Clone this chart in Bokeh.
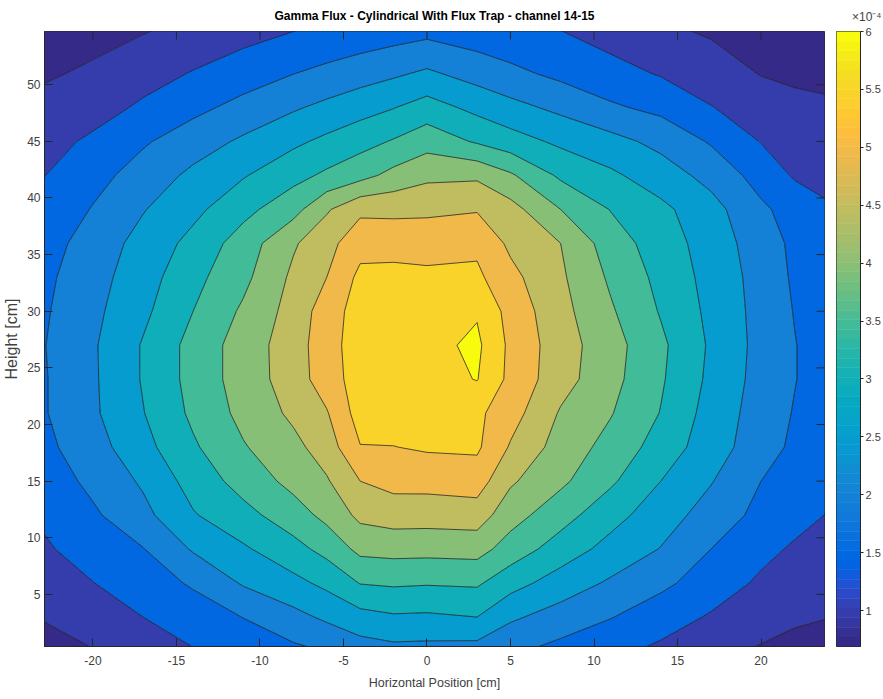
import numpy as np
from bokeh.plotting import figure
from bokeh.layouts import row
from bokeh.models import FixedTicker, Range1d, Title
from bokeh.embed import file_html
from bokeh.resources import INLINE

# Measurement grid (cm)
x_cm = [-23, -20, -17, -14, -11, -8, -6, -4, -2, 0, 3, 5, 8, 11, 14, 17, 20, 22, 24]
height_cm = [0, 3, 6, 9, 12, 15, 18, 21, 24, 27, 30, 33, 36, 39, 42, 45, 48, 51, 55]

# Gamma flux, channel 14-15, in units of 1e-4 (one row per height, bottom to top)
flux_h00 = [0.78, 0.98, 1.22, 1.47, 1.68, 1.88, 2.02, 2.24, 2.34, 2.32, 2.28, 2.08, 1.83, 1.62, 1.39, 1.15, 0.94, 0.85, 0.78]
flux_h03 = [1.03, 1.23, 1.50, 1.75, 2.01, 2.35, 2.59, 2.83, 2.94, 2.92, 3.00, 2.58, 2.29, 2.02, 1.73, 1.45, 1.22, 1.07, 1.01]
flux_h06 = [1.22, 1.49, 1.76, 2.06, 2.55, 2.86, 3.12, 3.52, 3.57, 3.54, 3.57, 3.19, 2.77, 2.43, 2.11, 1.76, 1.42, 1.28, 1.17]
flux_h09 = [1.43, 1.71, 1.98, 2.55, 2.93, 3.33, 3.66, 4.13, 4.17, 4.16, 4.19, 3.78, 3.27, 2.83, 2.48, 2.00, 1.63, 1.44, 1.32]
flux_h12 = [1.57, 1.92, 2.36, 2.96, 3.34, 3.77, 4.14, 4.62, 4.73, 4.72, 4.75, 4.20, 3.70, 3.18, 2.73, 2.29, 1.86, 1.66, 1.48]
flux_h15 = [1.72, 2.12, 2.57, 3.20, 3.69, 4.15, 4.45, 5.00, 5.16, 5.17, 5.24, 4.57, 4.10, 3.58, 3.00, 2.53, 2.00, 1.78, 1.58]
flux_h18 = [1.87, 2.29, 2.84, 3.43, 3.96, 4.36, 4.74, 5.48, 5.49, 5.56, 5.58, 4.95, 4.29, 3.83, 3.29, 2.73, 2.23, 1.90, 1.65]
flux_h21 = [1.95, 2.42, 2.98, 3.60, 4.14, 4.60, 4.96, 5.72, 5.74, 5.76, 5.60, 5.21, 4.45, 4.03, 3.48, 2.80, 2.28, 1.97, 1.72]
flux_h24 = [1.95, 2.43, 3.04, 3.67, 4.23, 4.74, 5.27, 5.72, 5.76, 5.80, 6.02, 5.37, 4.70, 4.16, 3.56, 2.89, 2.32, 2.02, 1.75]
flux_h27 = [1.97, 2.44, 3.04, 3.67, 4.23, 4.76, 5.30, 5.75, 5.80, 5.85, 6.10, 5.39, 4.73, 4.20, 3.60, 2.93, 2.34, 2.02, 1.75]
flux_h30 = [1.93, 2.38, 2.89, 3.50, 4.08, 4.69, 5.25, 5.72, 5.76, 5.82, 5.95, 5.32, 4.66, 4.06, 3.46, 2.88, 2.33, 1.98, 1.73]
flux_h33 = [1.88, 2.31, 2.78, 3.35, 3.87, 4.60, 5.00, 5.62, 5.65, 5.62, 5.60, 5.14, 4.58, 3.92, 3.36, 2.83, 2.31, 1.93, 1.70]
flux_h36 = [1.78, 2.22, 2.67, 3.15, 3.73, 4.44, 4.83, 5.32, 5.31, 5.27, 5.39, 4.90, 4.50, 3.75, 3.25, 2.78, 2.24, 1.90, 1.68]
flux_h39 = [1.62, 2.03, 2.47, 2.87, 3.35, 3.82, 4.44, 4.89, 4.88, 4.91, 4.96, 4.68, 4.00, 3.48, 3.12, 2.68, 2.09, 1.80, 1.54]
flux_h42 = [1.48, 1.83, 2.21, 2.61, 2.96, 3.34, 3.59, 3.83, 4.15, 4.38, 4.41, 4.07, 3.41, 3.09, 2.74, 2.34, 1.80, 1.45, 1.39]
flux_h45 = [1.31, 1.59, 1.94, 2.26, 2.58, 2.90, 3.11, 3.32, 3.54, 3.80, 3.44, 3.21, 2.90, 2.66, 2.36, 1.95, 1.48, 1.29, 1.23]
flux_h48 = [1.13, 1.29, 1.58, 1.87, 2.15, 2.44, 2.62, 2.80, 2.98, 3.21, 2.86, 2.65, 2.38, 2.07, 1.87, 1.52, 1.23, 1.11, 1.07]
flux_h51 = [0.94, 1.07, 1.30, 1.53, 1.76, 1.99, 2.13, 2.28, 2.42, 2.58, 2.30, 2.12, 1.88, 1.67, 1.46, 1.21, 0.98, 0.92, 0.88]
flux_h55 = [0.76, 0.84, 0.95, 1.11, 1.29, 1.46, 1.56, 1.64, 1.73, 1.81, 1.68, 1.60, 1.48, 1.27, 1.06, 0.93, 0.80, 0.74, 0.69]

# Contour levels and colour limits (units of 1e-4)
contour_levels = [1.0, 1.5, 2.0, 2.5, 3.0, 3.5, 4.0, 4.5, 5.0, 5.5, 6.0]
color_low, color_high = 0.69, 6.0
colorbar_ticks = [1, 1.5, 2, 2.5, 3, 3.5, 4, 4.5, 5, 5.5, 6]
x_ticks = [-20, -15, -10, -5, 0, 5, 10, 15, 20]
y_ticks = [5, 10, 15, 20, 25, 30, 35, 40, 45, 50]

# parula colormap, 64 entries
PARULA = [
    (0.2081, 0.1663, 0.5292), (0.2116, 0.1898, 0.5777), (0.2123, 0.2138, 0.6270), (0.2081, 0.2386, 0.6771),
    (0.1959, 0.2645, 0.7279), (0.1707, 0.2919, 0.7792), (0.1253, 0.3242, 0.8303), (0.0591, 0.3598, 0.8683),
    (0.0117, 0.3875, 0.8820), (0.0060, 0.4086, 0.8828), (0.0165, 0.4266, 0.8786), (0.0329, 0.4430, 0.8720),
    (0.0498, 0.4586, 0.8641), (0.0629, 0.4737, 0.8554), (0.0723, 0.4887, 0.8467), (0.0779, 0.5040, 0.8384),
    (0.0793, 0.5200, 0.8312), (0.0749, 0.5375, 0.8263), (0.0641, 0.5570, 0.8240), (0.0488, 0.5772, 0.8228),
    (0.0343, 0.5966, 0.8199), (0.0265, 0.6137, 0.8135), (0.0239, 0.6287, 0.8038), (0.0231, 0.6418, 0.7913),
    (0.0228, 0.6535, 0.7768), (0.0267, 0.6642, 0.7607), (0.0384, 0.6743, 0.7436), (0.0590, 0.6838, 0.7254),
    (0.0843, 0.6928, 0.7062), (0.1133, 0.7015, 0.6859), (0.1453, 0.7098, 0.6646), (0.1801, 0.7177, 0.6424),
    (0.2178, 0.7250, 0.6193), (0.2586, 0.7317, 0.5954), (0.3022, 0.7376, 0.5712), (0.3482, 0.7424, 0.5473),
    (0.3953, 0.7459, 0.5244), (0.4420, 0.7481, 0.5033), (0.4871, 0.7491, 0.4840), (0.5300, 0.7491, 0.4661),
    (0.5709, 0.7485, 0.4494), (0.6099, 0.7473, 0.4337), (0.6473, 0.7456, 0.4188), (0.6834, 0.7435, 0.4044),
    (0.7184, 0.7411, 0.3905), (0.7525, 0.7384, 0.3768), (0.7858, 0.7356, 0.3633), (0.8185, 0.7327, 0.3498),
    (0.8507, 0.7299, 0.3360), (0.8824, 0.7274, 0.3217), (0.9139, 0.7258, 0.3063), (0.9450, 0.7261, 0.2886),
    (0.9739, 0.7314, 0.2666), (0.9938, 0.7455, 0.2403), (0.9990, 0.7653, 0.2164), (0.9955, 0.7861, 0.1967),
    (0.9880, 0.8066, 0.1794), (0.9789, 0.8271, 0.1633), (0.9697, 0.8481, 0.1475), (0.9626, 0.8705, 0.1309),
    (0.9589, 0.8949, 0.1132), (0.9598, 0.9218, 0.0948), (0.9661, 0.9514, 0.0755), (0.9763, 0.9831, 0.0538),
]
parula_hex = ["#%02x%02x%02x" % tuple(int(round(c * 255)) for c in rgb) for rgb in PARULA]


def parula_for(v):
    n = len(parula_hex)
    i = int(np.floor((v - color_low) / (color_high - color_low) * n))
    return parula_hex[min(max(i, 0), n - 1)]


flux = np.array([flux_h00, flux_h03, flux_h06, flux_h09, flux_h12, flux_h15, flux_h18,
                 flux_h21, flux_h24, flux_h27, flux_h30, flux_h33, flux_h36, flux_h39,
                 flux_h42, flux_h45, flux_h48, flux_h51, flux_h55])

# filled bands: below the first level, between levels, and above the last
fill_levels = [flux.min() - 0.05] + contour_levels + [flux.max() + 0.05]
band_colors = [parula_for(color_low)] + [parula_for(v) for v in contour_levels]

FONT = "'Liberation Sans', Arial, Helvetica, sans-serif"
TXT = "#262626"
LBL = "#404040"

x_range = Range1d(-22.9, 23.8)
y_range = Range1d(0.4, 54.7)

# ---- main contour panel ----
p = figure(width=825, height=699, x_range=x_range, y_range=y_range,
           output_backend="svg", toolbar_location=None,
           min_border_left=41, min_border_right=1, min_border_top=30, min_border_bottom=53)
p.grid.visible = False
p.background_fill_color = "white"
p.outline_line_color = TXT
p.outline_line_width = 1

p.add_layout(Title(text="Gamma Flux - Cylindrical With Flux Trap - channel 14-15",
                   align="center", vertical_align="top", offset=0, standoff=14,
                   text_font=FONT, text_font_size="12px", text_font_style="bold",
                   text_color="#000000"), "above")

p.contour(x=x_cm, y=height_cm, z=flux, levels=fill_levels,
          fill_color=band_colors, line_color="#101010", line_width=0.8, line_alpha=0.9)

for ax, ticks in ((p.xaxis[0], x_ticks), (p.yaxis[0], y_ticks)):
    ax.ticker = FixedTicker(ticks=ticks)
    ax.major_label_overrides = {t: str(t) for t in ticks}
    ax.minor_tick_line_color = None
    ax.major_tick_in = 8
    ax.major_tick_out = 0
    ax.axis_line_color = TXT
    ax.major_tick_line_color = TXT
    ax.major_label_text_font = FONT
    ax.major_label_text_font_size = "12px"
    ax.major_label_text_color = LBL
    ax.axis_label_text_font = FONT
    ax.axis_label_text_font_style = "normal"
    ax.axis_label_text_color = LBL

p.xaxis.axis_label = "Horizontal Position [cm]"
p.yaxis.axis_label = "Height [cm]"
p.xaxis.axis_label_text_font_size = "12.5px"
p.yaxis.axis_label_text_font_size = "16px"
p.xaxis.major_label_standoff = 9
p.xaxis.axis_label_standoff = 8
p.yaxis.major_label_standoff = 4
p.yaxis.axis_label_standoff = 4

# inward tick marks on the top and right edges of the box (half of each dash is clipped)
p.scatter(x=x_ticks, y=[y_range.end] * len(x_ticks), marker="dash", angle=np.pi / 2,
          size=16, line_color=TXT, line_width=1)
p.scatter(x=[x_range.end] * len(y_ticks), y=y_ticks, marker="dash",
          size=16, line_color=TXT, line_width=1)

# ---- colour scale panel ----
cb = figure(width=58, height=699, x_range=Range1d(0, 1),
            y_range=Range1d(color_low, color_high),
            output_backend="svg", toolbar_location=None,
            x_axis_type=None, y_axis_location="right",
            min_border_left=11, min_border_right=0, min_border_top=30, min_border_bottom=53)
cb.grid.visible = False
cb.outline_line_color = TXT
cb.outline_line_width = 1
cb.background_fill_color = "white"

edges = np.linspace(color_low, color_high, len(parula_hex) + 1)
cb.quad(left=0, right=1, bottom=edges[:-1], top=edges[1:],
        fill_color=parula_hex, line_color=parula_hex, line_width=0.5)

cax = cb.yaxis[0]
cax.ticker = FixedTicker(ticks=colorbar_ticks)
cax.major_label_overrides = {t: ("%g" % t) for t in colorbar_ticks}
cax.minor_tick_line_color = None
cax.major_tick_in = 0
cax.major_tick_out = 3
cax.axis_line_color = TXT
cax.major_tick_line_color = TXT
cax.major_label_standoff = 2
cax.major_label_text_font = FONT
cax.major_label_text_font_size = "11px"
cax.major_label_text_color = LBL

cb.add_layout(Title(text="\u00d710\u207b\u2074", align="right", vertical_align="bottom",
                    offset=-21, standoff=15,
                    text_font=FONT, text_font_size="12px", text_font_style="normal",
                    text_color=LBL), "above")

open("out.html", "w").write(file_html(row(p, cb), INLINE))
